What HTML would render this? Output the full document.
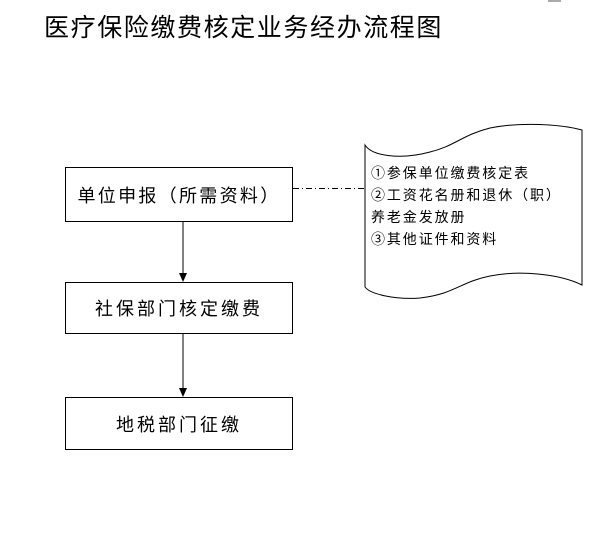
<!DOCTYPE html>
<html><head><meta charset="utf-8"><style>
body{margin:0;width:612px;height:546px;background:#fff;position:relative;overflow:hidden;font-family:"Liberation Sans","Noto Sans CJK SC",sans-serif;}
.t{position:absolute;left:44px;top:8px;font-size:25px;letter-spacing:1.6px;color:#000;white-space:nowrap}
.b{position:absolute;left:65px;width:228px;border:1px solid #000;display:flex;align-items:center;justify-content:center;font-size:18px;box-sizing:border-box}
.s{position:absolute;left:371px;font-size:14px;letter-spacing:1.9px;line-height:22px;top:162px;white-space:nowrap}
</style></head><body>
<div class="t">医疗保险缴费核定业务经办流程图</div>
<div style="position:absolute;left:548px;top:0;width:13px;height:2px;background:#aaa"></div>
<div class="b" style="top:167px;height:55px;letter-spacing:2.3px">单位申报（所需资料）</div>
<div class="b" style="top:282px;height:52px;letter-spacing:3px">社保部门核定缴费</div>
<div class="b" style="top:397px;height:53px;letter-spacing:3px">地税部门征缴</div>
<svg width="612" height="546" style="position:absolute;left:0;top:0">
<line x1="183" y1="222" x2="183" y2="276" stroke="#000"/>
<polygon points="179,273 187,273 183,282" fill="#000"/>
<line x1="183" y1="334" x2="183" y2="391" stroke="#000"/>
<polygon points="179,388 187,388 183,397" fill="#000"/>
<line x1="293" y1="188.5" x2="364" y2="188.5" stroke="#000" stroke-dasharray="6,3,1,3"/>
<path d="M365,145 C372,156 400,160 430,152 C455,146 462,135 490,128 C520,122 560,124 582,130 L582,285 C560,274 520,270 490,276 C460,282 455,294 420,298 C395,300 370,294 365,287 Z" fill="#fff" stroke="#000"/>
</svg>
<div class="s">①参保单位缴费核定表<br>②工资花名册和退休（职）<br>养老金发放册<br>③其他证件和资料</div>
</body></html>
